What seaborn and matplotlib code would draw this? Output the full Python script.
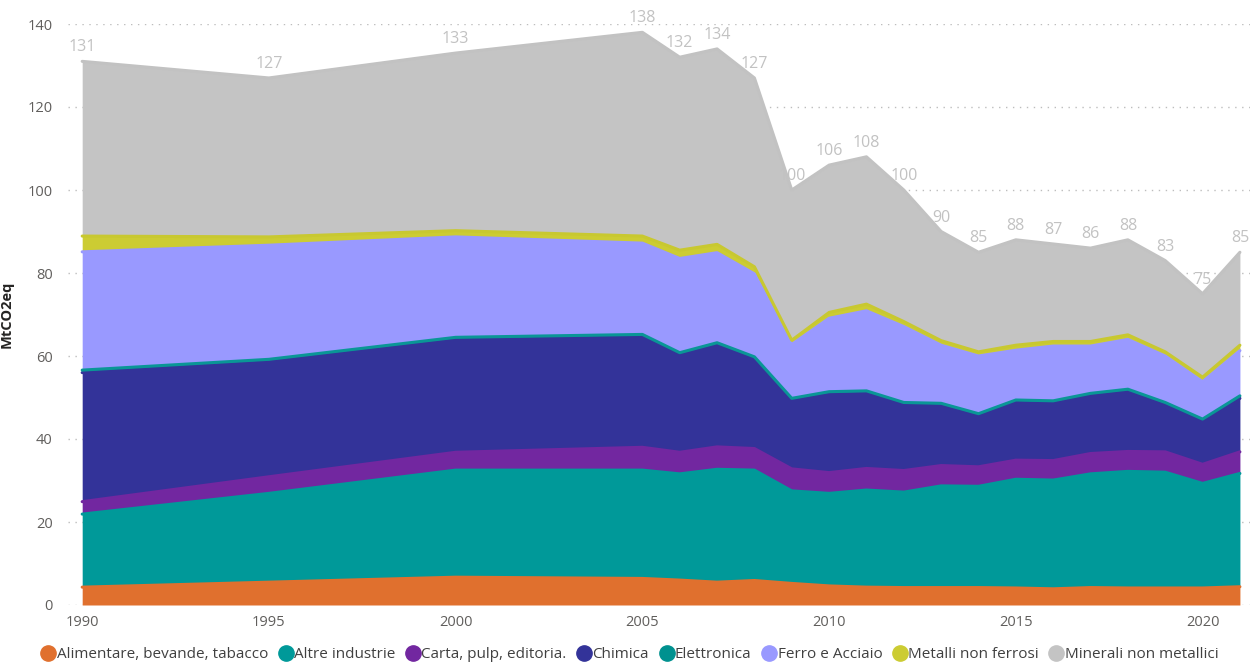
import numpy as np
import pandas as pd
import matplotlib
matplotlib.use("Agg")
import matplotlib.pyplot as plt
from matplotlib.lines import Line2D
import seaborn as sns

# years on the x axis
YEARS = [1990, 1995, 2000] + list(range(2005, 2022))

# MtCO2eq per sector
alimentare = [4.3, 5.5, 6.7, 6.4, 6.0, 5.5, 5.9, 5.2, 4.6, 4.3, 4.2, 4.2, 4.2, 4.1, 3.9, 4.2, 4.1, 4.1, 4.1, 4.4]
altre_industrie = [17.6, 21.4, 25.8, 26.1, 25.6, 27.2, 26.6, 22.3, 22.3, 23.4, 23.0, 24.5, 24.4, 26.2, 26.2, 27.4, 28.1, 27.9, 25.2, 27.3]
carta = [3.0, 4.0, 4.3, 5.5, 5.2, 5.4, 5.2, 5.3, 5.0, 5.2, 5.2, 4.9, 4.7, 4.6, 4.7, 4.9, 4.8, 4.9, 4.6, 5.2]
chimica = [31.1, 27.7, 27.1, 26.6, 23.4, 24.5, 21.5, 16.4, 18.9, 18.1, 15.8, 14.4, 12.2, 13.9, 13.8, 13.9, 14.4, 11.3, 10.3, 12.9]
elettronica = [0.6, 0.6, 0.6, 0.6, 0.6, 0.6, 0.6, 0.6, 0.6, 0.6, 0.6, 0.6, 0.6, 0.6, 0.6, 0.6, 0.6, 0.6, 0.6, 0.6]
ferro = [28.5, 27.5, 24.2, 22.0, 22.7, 21.7, 20.0, 13.0, 17.7, 19.3, 18.3, 14.0, 13.9, 12.0, 13.2, 11.4, 12.0, 11.2, 9.0, 10.9]
metalli = [3.8, 2.0, 1.5, 1.7, 2.0, 2.0, 1.7, 1.0, 1.4, 1.6, 1.2, 1.1, 1.0, 1.2, 1.1, 1.1, 1.1, 1.0, 1.1, 1.3]
minerali = [42.1, 38.3, 42.8, 49.1, 46.5, 47.1, 45.5, 36.2, 35.5, 35.5, 31.7, 26.3, 24.0, 25.4, 23.5, 22.5, 22.9, 22.0, 20.1, 22.4]

SECTORS = ['Alimentare, bevande, tabacco', 'Altre industrie', 'Carta, pulp, editoria.',
           'Chimica', 'Elettronica', 'Ferro e Acciaio', 'Metalli non ferrosi',
           'Minerali non metallici']
COLORS = ['#E0702E', '#009999', '#7227A0', '#333399', '#00918F', '#9999FF',
          '#CCCC33', '#C4C4C4']
EDGE = ['#E0702E', '#009999', '#7227A0', '#333399', '#0A9696', '#9999FF',
        '#C8C830', '#C2C2C2']

values = [alimentare, altre_industrie, carta, chimica, elettronica, ferro, metalli, minerali]
df = pd.DataFrame({name: vals for name, vals in zip(SECTORS, values)}, index=YEARS)
cum = df.cumsum(axis=1)
total = cum[SECTORS[-1]]

sns.set_theme(style="white")
plt.rcParams['font.family'] = ['Open Sans', 'DejaVu Sans']

fig = plt.figure(figsize=(12.5, 6.65), dpi=100)
ax = fig.add_axes([68 / 1250, 60 / 665, 1182 / 1250, 581 / 665])

ax.stackplot(df.index, [df[s] for s in SECTORS], colors=COLORS, linewidth=0, zorder=2)

# top edge of every band, drawn with seaborn
long = cum.reset_index().melt(id_vars='index', var_name='sector', value_name='top')
long = long.rename(columns={'index': 'year'})
sns.lineplot(data=long, x='year', y='top', hue='sector', hue_order=SECTORS,
             palette=EDGE, linewidth=2.2, legend=False, ax=ax, zorder=3)
for line in ax.lines:
    line.set_solid_capstyle('round')

# total labels
for yr, tot in total.items():
    ax.annotate(f"{tot:.0f}", (yr, tot), xytext=(0, 10), textcoords='offset points',
                ha='center', va='center', fontsize=11.5, color='#C2C2C2', zorder=4,
                annotation_clip=False)

ax.set_xlim(1989.62, 2021.27)
ax.set_ylim(0, 140)
ax.set_yticks(range(0, 141, 20))
ax.set_xticks([1990, 1995, 2000, 2005, 2010, 2015, 2020])
ax.set_xticks(range(1990, 2022), minor=True)
ax.yaxis.grid(True, linestyle=(0, (1, 4)), color='#BDBDBD', linewidth=1, zorder=0)
ax.set_axisbelow(True)
for sp in ax.spines.values():
    sp.set_visible(False)
ax.tick_params(axis='y', length=0, pad=11, labelsize=10.5, labelcolor='#605E5C')
ax.tick_params(axis='x', which='major', length=0, pad=7, labelsize=10.5, labelcolor='#605E5C')
ax.tick_params(axis='x', which='minor', length=2, color='#CCCCCC', width=0.8)
ax.set_xlabel('')
ax.set_ylabel('MtCO2eq', fontsize=10.5, color='#252423', fontweight='bold')
ax.yaxis.set_label_coords(-0.046, 0.5)

handles = [Line2D([0], [0], marker='o', linestyle='', markersize=11,
                  markerfacecolor=c, markeredgecolor=c) for c in COLORS]
fig.legend(handles, SECTORS, loc='center', bbox_to_anchor=(0.503, 0.016), ncol=8,
           frameon=False, handletextpad=-0.05, columnspacing=0.55, handlelength=1.2,
           fontsize=11, labelcolor='#404040')

fig.savefig('out.png', dpi=100)
